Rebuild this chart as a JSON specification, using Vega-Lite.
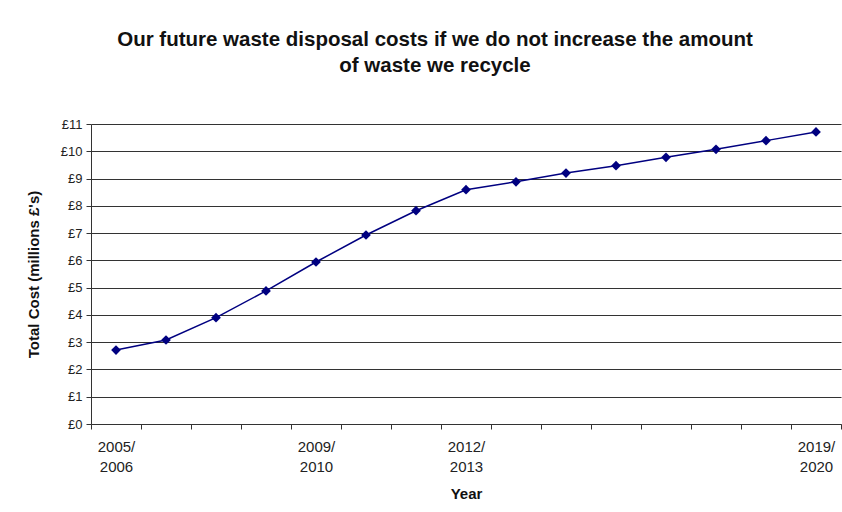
{
  "$schema": "https://vega.github.io/schema/vega-lite/v6.json",
  "width": 750,
  "height": 300,
  "autosize": {"type": "none"},
  "padding": {"left": 91, "top": 124, "right": 1, "bottom": 88},
  "background": "white",
  "title": {
    "text": ["Our future waste disposal costs if we do not increase the amount", "of waste we recycle"],
    "font": "Liberation Sans",
    "fontSize": 20.5,
    "fontWeight": "bold",
    "color": "#111",
    "lineHeight": 26,
    "anchor": "middle",
    "dx": -31,
    "offset": 42
  },
  "config": {
    "view": {"stroke": null},
    "font": "Liberation Sans"
  },
  "data": {
    "values": [
      {"Year": "2005/2006", "Cost": 2.71},
      {"Year": "2006/2007", "Cost": 3.08},
      {"Year": "2007/2008", "Cost": 3.9},
      {"Year": "2008/2009", "Cost": 4.88},
      {"Year": "2009/2010", "Cost": 5.94},
      {"Year": "2010/2011", "Cost": 6.93},
      {"Year": "2011/2012", "Cost": 7.82},
      {"Year": "2012/2013", "Cost": 8.59},
      {"Year": "2013/2014", "Cost": 8.88},
      {"Year": "2014/2015", "Cost": 9.2},
      {"Year": "2015/2016", "Cost": 9.47},
      {"Year": "2016/2017", "Cost": 9.78},
      {"Year": "2017/2018", "Cost": 10.07},
      {"Year": "2018/2019", "Cost": 10.39},
      {"Year": "2019/2020", "Cost": 10.71}
    ]
  },
  "encoding": {
    "x": {
      "field": "Year",
      "type": "ordinal",
      "sort": null,
      "scale": {"paddingInner": 0, "paddingOuter": 0},
      "axis": {
        "title": "Year",
        "titleFont": "Liberation Sans",
        "titleFontSize": 15,
        "titleFontWeight": "bold",
        "titleColor": "#111",
        "titlePadding": 12,
        "labelAngle": 0,
        "labelFont": "Liberation Sans",
        "labelFontSize": 15,
        "labelColor": "#222",
        "labelLineHeight": 20,
        "labelPadding": 10,
        "labelExpr": "indexof(['2005/2006','2009/2010','2012/2013','2019/2020'], datum.value) >= 0 ? [slice(datum.value, 0, 5), slice(datum.value, 5)] : ''",
        "tickBand": "extent",
        "tickColor": "#333",
        "tickSize": 5,
        "domainColor": "#333",
        "grid": false
      }
    },
    "y": {
      "field": "Cost",
      "type": "quantitative",
      "scale": {"domain": [0, 11], "nice": false},
      "axis": {
        "title": "Total Cost (millions £'s)",
        "titleFont": "Liberation Sans",
        "titleFontSize": 15,
        "titleFontWeight": "bold",
        "titleColor": "#111",
        "titlePadding": 19,
        "values": [0, 1, 2, 3, 4, 5, 6, 7, 8, 9, 10, 11],
        "labelExpr": "'£' + datum.value",
        "labelFont": "Liberation Sans",
        "labelFontSize": 13,
        "labelColor": "#222",
        "labelPadding": 4,
        "tickColor": "#333",
        "tickSize": 5,
        "domainColor": "#333",
        "grid": true,
        "gridColor": "#333",
        "gridWidth": 1
      }
    }
  },
  "layer": [
    {
      "mark": {"type": "line", "color": "#000080", "strokeWidth": 1.5}
    },
    {
      "mark": {"type": "point", "shape": "diamond", "filled": true, "color": "#000080", "size": 95, "opacity": 1}
    }
  ]
}
